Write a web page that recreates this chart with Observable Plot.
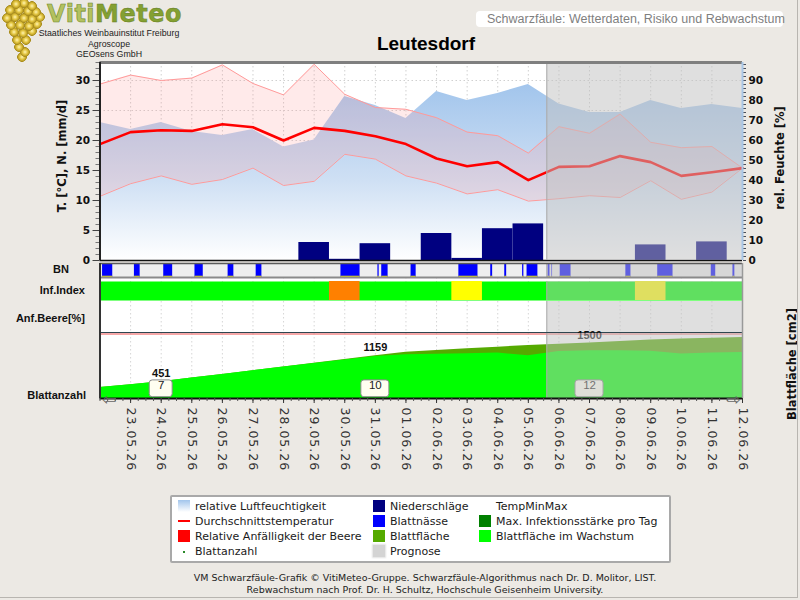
<!DOCTYPE html>
<html>
<head>
<meta charset="utf-8">
<script src="https://cdn.jsdelivr.net/npm/d3@7"></script>
<script src="https://cdn.jsdelivr.net/npm/@observablehq/plot@0.6"></script>
<style>
  body { margin: 0; background: #ECE9E4; }
  #chart { position: relative; width: 800px; height: 600px; background: #ECE9E4; overflow: hidden;
           font-family: "Liberation Sans", Arial, sans-serif; color: #111; }
  #chart::after { content: ""; position: absolute; right: 2px; bottom: 2px; width: 798px; height: 598px;
                  border-right: 1px solid #b8b5b0; border-bottom: 1px solid #b8b5b0; pointer-events: none; }
  .layer { position: absolute; left: 0; top: 0; }
  .abs { position: absolute; white-space: nowrap; }
  .rot { transform: translate(-50%, -50%) rotate(-90deg); font-family: "DejaVu Sans", Verdana, sans-serif;
         font-weight: bold; font-size: 11.5px; }
  .rowlab { font-weight: bold; font-size: 11px; transform: translate(-100%, -50%); }
  .org { left: 28px; width: 162px; text-align: center; font-size: 8.8px; line-height: 10px; color: #222; }
  #legend { position: absolute; left: 170px; top: 495px; width: 497px; height: 64px; background: #fff;
            border: 2px solid #a9a9a9; border-radius: 2px; font-family: "DejaVu Sans", Verdana, sans-serif;
            font-size: 11px; color: #1a1a1a; }
  .sw { position: absolute; width: 12px; height: 12px; }
  .lt { position: absolute; transform: translateY(-50%); white-space: nowrap; }
  .foot { position: absolute; left: 0; width: 850px; text-align: center; font-family: "DejaVu Sans", Verdana, sans-serif;
          font-size: 9.5px; color: #222; }
</style>
</head>
<body>
<div id="chart"></div>
<script>
// ---- daily series, 22.05.26 – 12.06.26 ----
const dayLabels = ["22.05.26", "23.05.26", "24.05.26", "25.05.26", "26.05.26", "27.05.26", "28.05.26",
  "29.05.26", "30.05.26", "31.05.26", "01.06.26", "02.06.26", "03.06.26", "04.06.26", "05.06.26",
  "06.06.26", "07.06.26", "08.06.26", "09.06.26", "10.06.26", "11.06.26", "12.06.26"];
// temperature [°C]
const tMean = [19.4, 21.4, 21.7, 21.6, 22.7, 22.2, 20.0, 22.1, 21.6, 20.7, 19.4, 17.0, 15.7, 16.4, 13.4,
  15.6, 15.7, 17.4, 16.4, 14.1, 14.7, 15.4];
const tMax = [29.4, 30.9, 30.0, 30.4, 32.6, 29.5, 27.6, 32.7, 27.7, 25.5, 25.2, 23.8, 21.4, 20.8, 17.9,
  22.3, 21.2, 24.4, 19.7, 18.8, 19.0, 15.4];
const tMin = [10.7, 12.8, 14.1, 12.7, 13.5, 15.4, 12.5, 13.2, 17.7, 16.9, 14.1, 12.9, 11.1, 11.8, 9.9,
  10.3, 10.8, 10.5, 13.3, 10.2, 11.4, 15.4];
// relative humidity [%]
const humidity = [69, 65.5, 69, 64.5, 62.5, 65.5, 56.7, 60.3, 82, 77.5, 71, 84.5, 80, 83.5, 88,
  78.3, 74, 74, 80, 76, 78, 76];
// precipitation [mm/d]
const rain = [0, 0, 0, 0, 0, 0, 0, 3.0, 0.2, 2.8, 0, 4.5, 0.35, 5.3, 6.1, 0, 0, 0, 2.6, 0, 3.1, 0];
// infection index class per day: 0 none, 1 light, 2 medium
const infClass = [0, 0, 0, 0, 0, 0, 0, 0, 2, 0, 0, 0, 1, 0, 0, 0, 0, 0, 1, 0, 0, 0];
const infColors = ["#00ff00", "#ffff00", "#ff8000"];
// relative berry susceptibility [%]
const berrySusc = [0, 0, 0, 0, 0, 0, 0, 0, 0, 0, 0, 0, 0, 0, 0, 0, 0, 0, 0, 0, 0, 0];
// leaf area [cm2]: total and growing part
const leafTotal = [300, 375, 451, 552, 653, 754, 855, 956, 1057, 1159, 1255, 1300, 1345, 1390, 1432,
  1468, 1500, 1545, 1585, 1610, 1632, 1655];
const leafGrowing = [300, 375, 451, 552, 653, 754, 855, 950, 1045, 1135, 1185, 1200, 1215, 1230, 1160,
  1270, 1290, 1292, 1280, 1205, 1230, 1247];
// leaf count labels
const leafCountDays = ["24.05.26", "31.05.26", "07.06.26"];
const leafCount = [7, 10, 12];
// leaf wetness periods (UTC)
const wetStart = ["2026-05-22T02:00", "2026-05-23T03:00", "2026-05-24T02:00", "2026-05-25T02:30",
  "2026-05-26T04:30", "2026-05-27T02:30", "2026-05-29T21:00", "2026-05-31T02:00", "2026-05-31T05:00",
  "2026-06-01T04:00", "2026-06-02T17:30", "2026-06-03T18:30", "2026-06-04T05:30", "2026-06-04T19:30",
  "2026-06-04T23:00", "2026-06-05T15:30", "2026-06-05T18:30", "2026-06-06T01:00", "2026-06-08T04:30",
  "2026-06-09T05:30", "2026-06-10T23:30", "2026-06-11T16:30"];
const wetEnd = ["2026-05-22T10:00", "2026-05-23T07:30", "2026-05-24T09:00", "2026-05-25T09:00",
  "2026-05-26T09:00", "2026-05-27T07:00", "2026-05-30T12:00", "2026-05-31T03:00", "2026-05-31T10:00",
  "2026-06-01T08:00", "2026-06-03T08:30", "2026-06-03T20:00", "2026-06-04T07:00", "2026-06-04T20:30",
  "2026-06-05T07:30", "2026-06-05T17:00", "2026-06-05T19:00", "2026-06-06T09:30", "2026-06-08T08:30",
  "2026-06-09T17:30", "2026-06-11T03:00", "2026-06-11T18:00"];
// forecast begins
const forecastStart = "2026-06-05T14:30";

// ---- derived tables ----
const parseDay = s => { const [d, m, y] = s.split(".").map(Number); return new Date(Date.UTC(2000 + y, m - 1, d)); };
const utc = s => new Date(s + "Z");
const days = dayLabels.map(parseDay);
const rows = days.map((date, i) => ({
  date, tMean: tMean[i], tMax: tMax[i], tMin: tMin[i], hum: humidity[i], rain: rain[i],
  inf: infClass[i], susc: berrySusc[i], total: leafTotal[i], growing: leafGrowing[i]
}));
const wet = wetStart.map((s, i) => ({start: utc(s), end: utc(wetEnd[i])}));
const countRows = leafCountDays.map((s, i) => {
  const date = parseDay(s);
  return {date, count: leafCount[i], total: leafTotal[days.findIndex(d => +d === +date)]};
});
const labelOf = new Map(days.map((d, i) => [+d, dayLabels[i]]));
const xDomain = [days[0], days[days.length - 1]];
const forecast = {start: utc(forecastStart), end: xDomain[1]};
const HOUR = 3600 * 1000, HALF_DAY = 12 * HOUR;
const HUM = 3; // humidity shares the temperature axis at a 3:1 ratio

const W = 800, H = 480, ML = 99.5, MR = 58;
const baseStyle = {background: "transparent", overflow: "visible", fontFamily: "DejaVu Sans, Verdana, sans-serif"};
function layer(top, bottom, options) {
  return Plot.plot({
    width: W, height: H, marginLeft: ML, marginRight: MR, marginTop: top, marginBottom: H - bottom,
    x: {type: "utc", domain: xDomain, axis: null},
    style: baseStyle,
    ...options
  });
}
const overlay = () => [
  Plot.rect([forecast], {x1: "start", x2: "end", fill: "#c0c0c0", fillOpacity: 0.5}),
  Plot.ruleX([forecast.start], {stroke: "#aaaaaa", strokeWidth: 1})
];
const dayGrid = (stroke) => Plot.ruleX(days.slice(1, -1), {stroke, strokeDasharray: "1.5,2.5", strokeWidth: 1});

const humGradient = () => {
  const defs = d3.create("svg:defs");
  const g = defs.append("linearGradient").attr("id", "humFill")
    .attr("x1", 0).attr("y1", 0).attr("x2", 0).attr("y2", 1);
  g.append("stop").attr("offset", "0%").attr("stop-color", "#a2c5ec");
  g.append("stop").attr("offset", "55%").attr("stop-color", "#cfe0f4");
  g.append("stop").attr("offset", "100%").attr("stop-color", "#ffffff");
  return defs.node();
};

// ---- weather panel ----
const weather = layer(62, 260, {
  y: {domain: [0, 33], axis: null},
  marks: [
    Plot.frame({fill: "white", stroke: null}),
    dayGrid("#d0d0d0"),
    Plot.ruleY(d3.range(5, 33, 5), {stroke: "#d0d0d0", strokeDasharray: "1.5,2.5"}),
    humGradient,
    Plot.areaY(rows, {x: "date", y: d => d.hum / HUM, fill: "url(#humFill)"}),
    Plot.areaY(rows, {x: "date", y1: "tMin", y2: "tMax", fill: "#ff9494", fillOpacity: 0.2}),
    Plot.lineY(rows, {x: "date", y: "tMax", stroke: "#ff9a9a", strokeWidth: 1}),
    Plot.lineY(rows, {x: "date", y: "tMin", stroke: "#ff9a9a", strokeWidth: 1}),
    Plot.lineY(rows, {x: "date", y: "tMean", stroke: "#ff0000", strokeWidth: 2.6}),
    Plot.rectY(rows.filter(d => d.rain > 0), {
      x1: d => new Date(+d.date - HALF_DAY), x2: d => new Date(+d.date + HALF_DAY),
      y: "rain", fill: "#000080", clip: true
    }),
    Plot.ruleY([0], {stroke: "#111", strokeWidth: 1.5}),
    ...overlay(),
    Plot.ruleY([33], {stroke: "#7f7f7f", strokeWidth: 3}),
    Plot.axisY(d3.range(0, 34, 1), {anchor: "left", tickSize: 4, tickFormat: () => "", stroke: "#777", label: null}),
    Plot.axisY(d3.range(0, 31, 5), {anchor: "left", tickSize: 7, tickPadding: 3, stroke: "#444",
      fontSize: 10.5, fontWeight: "bold", fill: "#111", label: null}),
    Plot.axisY(d3.range(0, 99, 2).map(v => v / HUM), {anchor: "right", tickSize: 3, tickFormat: () => "",
      stroke: "#4a4f5a", label: null}),
    Plot.axisY(d3.range(0, 91, 10).map(v => v / HUM), {anchor: "right", tickSize: 0, tickPadding: 6,
      tickFormat: v => String(Math.round(v * HUM)), fontSize: 10.5, fontWeight: "bold", fill: "#111", label: null}),
    Plot.ruleX([xDomain[0]], {stroke: "#222", strokeWidth: 2}),
    Plot.ruleX([xDomain[1]], {stroke: "#a9c6e6", strokeWidth: 2})
  ]
});

// ---- white backdrop of the lower panels ----
const backdrop = layer(277, 398, {
  y: {domain: [0, 1], axis: null},
  marks: [
    Plot.frame({fill: "white", stroke: null}),
    dayGrid("#d6d6d6")
  ]
});

// ---- leaf wetness strip ----
const wetness = layer(263, 277, {
  y: {domain: [0, 1], axis: null},
  marks: [
    Plot.frame({fill: "#eeeeee", stroke: null}),
    Plot.rect(wet, {x1: "start", x2: "end", fill: "#0000ff"}),
    Plot.rect(wet, {x1: "start", x2: "end", y1: () => 0, y2: () => 0.09, fill: "#e6e000"}),
    ...overlay(),
    Plot.ruleY([1], {stroke: "#5a5a5a", strokeWidth: 1.5}),
    Plot.ruleY([0], {stroke: "#8a8a8a", strokeWidth: 2})
  ]
});

// ---- infection index strip ----
const infection = layer(281, 300, {
  y: {domain: [0, 1], axis: null},
  color: {type: "identity"},
  marks: [
    Plot.frame({fill: infColors[0], stroke: null}),
    Plot.rect(rows.filter(d => d.inf > 0), {
      x1: d => new Date(+d.date - HALF_DAY), x2: d => new Date(+d.date + HALF_DAY),
      fill: d => infColors[d.inf], clip: true
    }),
    ...overlay()
  ]
});

// ---- berry susceptibility panel ----
const berry = layer(301, 333, {
  y: {domain: [0, 100], axis: null},
  marks: [
    ...overlay(),
    Plot.ruleY([0], {stroke: "#2e4650", strokeWidth: 1, dy: -1}),
    Plot.lineY(rows, {x: "date", y: "susc", stroke: "#ee5050", strokeWidth: 1, dy: 0.5})
  ]
});

// ---- leaf area panel + time axis ----
const leaf = layer(333, 398, {
  y: {domain: [0, 1760], axis: null},
  marks: [
    Plot.areaY(rows, {x: "date", y: "total", fill: "#55aa00"}),
    Plot.areaY(rows, {x: "date", y: "growing", fill: "#00ff00"}),
    Plot.text(countRows, {x: "date", y: "total", text: d => String(d.total), dy: -8,
      fontFamily: "Liberation Sans, Arial, sans-serif", fontSize: 11, fontWeight: "bold", fill: "#111"}),
    Plot.rect(countRows, {
      x1: d => new Date(+d.date - (String(d.count).length > 1 ? 11 : 9) * HOUR),
      x2: d => new Date(+d.date + (String(d.count).length > 1 ? 11 : 9) * HOUR),
      y1: () => 35, y2: () => 490, fill: "#fffff0", stroke: "#8a8a8a", strokeWidth: 1, rx: 3
    }),
    Plot.text(countRows, {x: "date", frameAnchor: "bottom", dy: -10, text: d => String(d.count),
      fontFamily: "Liberation Sans, Arial, sans-serif", fontSize: 11.5, fill: "#222"}),
    ...overlay(),
    Plot.ruleY([0], {stroke: "#111", strokeWidth: 2}),
    Plot.axisX(d3.utcHour.every(6).range(xDomain[0], new Date(+xDomain[1] + 1)),
      {anchor: "bottom", tickSize: 3, tickFormat: () => "", stroke: "#555", label: null}),
    Plot.axisX(days.slice(1), {anchor: "bottom", tickSize: 5, tickPadding: 4, tickRotate: 90,
      tickFormat: d => labelOf.get(+d), fontSize: 12.5, fill: "#333", stroke: "#333", label: null}),
    Plot.text(["⇦"], {frameAnchor: "bottom-left", dx: 9, dy: 1, text: d => d, textAnchor: "middle",
      lineAnchor: "middle", fontSize: 17, fill: "#666"}),
    Plot.text(["⇨"], {frameAnchor: "bottom-right", dx: -9, dy: 1, text: d => d, textAnchor: "middle",
      lineAnchor: "middle", fontSize: 17, fill: "#666"})
  ]
});
// a little air between the digits of the date labels
d3.select(leaf).selectAll("text").filter(function () { return /^\d\d\.\d\d\.\d\d$/.test(this.textContent); })
  .style("letter-spacing", "1px");

// ---- frame edges of the lower panels ----
const edges = layer(263, 398, {
  y: {domain: [0, 1], axis: null},
  marks: [
    Plot.ruleX([xDomain[0]], {stroke: "#333", strokeWidth: 2}),
    Plot.ruleX([xDomain[1]], {stroke: "#999", strokeWidth: 1.5})
  ]
});

const chart = document.getElementById("chart");
for (const svg of [weather, backdrop, wetness, infection, berry, leaf, edges]) {
  const div = document.createElement("div");
  div.className = "layer";
  div.appendChild(svg);
  chart.appendChild(div);
}

// ---- header, labels, legend, footer ----
function addText(text, css, cls = "abs") {
  const el = document.createElement("div");
  el.className = cls;
  el.textContent = text;
  Object.assign(el.style, css);
  chart.appendChild(el);
  return el;
}

// grape cluster of the logo
const grapes = document.createElement("div");
grapes.className = "abs";
const berries = [[14,4],[22,3],[30,6],[8,10],[17,10],[26,11],[34,12],[5,18],[13,17],[22,18],[30,19],[38,17],
  [9,25],[18,25],[27,26],[35,24],[12,32],[21,33],[30,31],[15,40],[24,40],[17,47],[23,52],[20,57]];
grapes.style.cssText = "left:2px;top:0px;width:44px;height:62px;background:" +
  berries.map(([x, y]) => `radial-gradient(circle at ${x}px ${y}px, #fff4b0 0px, #e2c440 2.5px, #a88c1c 4.6px, rgba(0,0,0,0) 5px)`).join(",");
chart.appendChild(grapes);

const logo = document.createElement("div");
logo.className = "abs";
logo.style.cssText = "left:47px;top:0px;font-family:'DejaVu Sans',Verdana,sans-serif;font-weight:bold;font-size:24px;letter-spacing:0.5px;";
logo.innerHTML = '<span style="color:#b3c160;-webkit-text-stroke:0.6px #6f8a2a">Viti</span><span style="color:#84a032;-webkit-text-stroke:0.4px #5d7820">Meteo</span>';
chart.appendChild(logo);
addText("Staatliches Weinbauinstitut Freiburg", {top: "27.5px"}, "abs org");
addText("Agroscope", {top: "38.5px"}, "abs org");
addText("GEOsens GmbH", {top: "49px"}, "abs org");

addText("Schwarzfäule: Wetterdaten, Risiko und Rebwachstum",
  {left: "476px", top: "11px", width: "296px", height: "16px", lineHeight: "16px", paddingLeft: "11px",
   background: "#fff", borderRadius: "4px", fontSize: "12.5px", color: "#7f7f7f"});
addText("Leutesdorf", {left: "326px", width: "200px", textAlign: "center", top: "33px", fontSize: "19px", fontWeight: "bold", color: "#000"});

addText("T. [°C], N. [mm/d]", {left: "62px", top: "156px"}, "abs rot");
addText("rel. Feuchte [%]", {left: "780px", top: "158px"}, "abs rot");
addText("Blattfläche [cm2]", {left: "791.5px", top: "364px"}, "abs rot");

addText("BN", {left: "69px", top: "269px"}, "abs rowlab");
addText("Inf.Index", {left: "85px", top: "290px"}, "abs rowlab");
addText("Anf.Beere[%]", {left: "85px", top: "318px"}, "abs rowlab");
addText("Blattanzahl", {left: "86px", top: "395px"}, "abs rowlab");

// legend
const legendLabels = ["relative Luftfeuchtigkeit", "Durchschnittstemperatur", "Relative Anfälligkeit der Beere", "Blattanzahl",
  "Niederschläge", "Blattnässe", "Blattfläche", "Prognose",
  "TempMinMax", "Max. Infektionsstärke pro Tag", "Blattfläche im Wachstum"];
const legendSwatches = ["gradient", "line", "#ff0000", "dot",
  "#000080", "#0000ff", "#55aa00", "#d4d4d4",
  "none", "#008000", "#00ff00"];
const legendCols = [0, 0, 0, 0, 1, 1, 1, 1, 2, 2, 2];
const legendRows = [0, 1, 2, 3, 0, 1, 2, 3, 0, 1, 2];
const legend = document.createElement("div");
legend.id = "legend";
chart.appendChild(legend);
const colX = [6, 201, 307];
legendLabels.forEach((label, i) => {
  const cx = colX[legendCols[i]], cy = 9 + 15 * legendRows[i];
  const kind = legendSwatches[i];
  const sw = document.createElement("div");
  sw.className = "sw";
  sw.style.left = cx + "px";
  sw.style.top = (cy - 6) + "px";
  if (kind === "gradient") sw.style.background = "linear-gradient(#a2c5ec, #ffffff)";
  else if (kind === "line") { sw.style.height = "2px"; sw.style.top = (cy - 1) + "px"; sw.style.background = "#ff0000"; }
  else if (kind === "dot") { sw.style.width = "2px"; sw.style.height = "2px"; sw.style.left = (cx + 5) + "px"; sw.style.top = cy + "px"; sw.style.background = "#2a8a2a"; }
  else if (kind !== "none") {
    sw.style.background = kind;
    if (label === "Prognose") sw.style.boxShadow = "0 0 1.5px 1px #e2e2e2";
  }
  legend.appendChild(sw);
  const t = document.createElement("div");
  t.className = "lt";
  t.style.left = (cx + 17) + "px";
  t.style.top = cy + "px";
  t.textContent = label;
  legend.appendChild(t);
});

addText("VM Schwarzfäule-Grafik © VitiMeteo-Gruppe. Schwarzfäule-Algorithmus nach Dr. D. Molitor, LIST.", {top: "571.5px"}, "foot");
addText("Rebwachstum nach Prof. Dr. H. Schultz, Hochschule Geisenheim University.", {top: "584px"}, "foot");
</script>
</body>
</html>
